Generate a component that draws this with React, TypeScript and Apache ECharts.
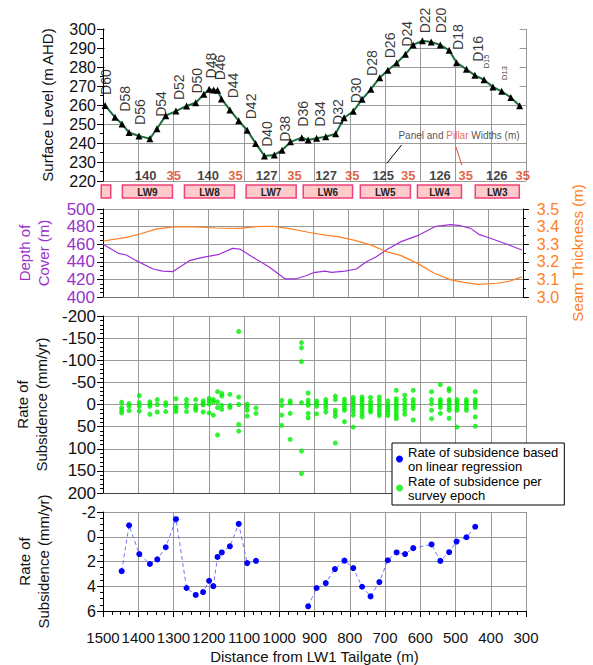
import React, { useEffect, useRef } from 'react';
import * as echarts from 'echarts';

// ---------- DATA ----------
const surfaceX = [1494,1466,1446,1426,1398,1367,1347,1322,1293,1263,1237,1214,1199,1186,1175,1164,1140,1115,1091,1067,1042,1014,992,968,936,918,894,868,840,816,790,765,740,715,692,667,642,620,594,569,543,518,497,469,445,419,394,369,343,318];
const surfaceLevel = [259.8,253.5,250,245.5,243.7,242.3,247.5,254.4,256.8,259.5,261.2,265.6,268.3,267.9,267.7,263.2,257.4,251.7,246.7,239.8,233.2,233.7,236.2,240.6,242.8,241.6,242.5,243.3,244.9,253.3,256.7,263,268.3,274.4,278.3,282.1,286.7,291.6,293.8,293.2,291.6,288.8,282.3,278.8,275.6,273.3,269.5,267.2,264,259.6];

const pegNames = ['D60','D58','D56','D54','D52','D50','D48','D46','D44','D42','D40','D38','D36','D34','D32','D30','D28','D26','D24','D22','D20','D18','D16','D15','D13'];
const pegLabelX = [1491,1438,1395,1335,1284,1234,1194,1168,1130,1081,1036,984,932,883,832,782,736,686,637,587,540,492,435,413,360];
const pegLabelY = [265.3,256.5,249.5,253.8,262.6,266,274,273,263.5,252.5,238,240.7,248.6,248.5,249.5,260.9,275.3,284.6,290.7,297.7,297.7,289,282.8,279.3,273.2];
const smallPegs = ['D15','D13'];

const widthLabels = ['140','35','140','35','127','35','127','35','125','35','126','35','126','35'];
const widthX = [1379,1299,1202,1124,1036,957,867,793,705,634,544,471,383,309];
const widthLevel = 222.8;

const lwNames = ['','LW9','LW8','LW7','LW6','LW5','LW4','LW3'];
const lwStart = [1505,1445,1269,1094,932,770,608,444];
const lwEnd = [1478,1303,1127,952,792,628,483,319];

const depthX = [1500,1456,1433,1405,1357,1329,1301,1253,1215,1168,1130,1109,1074,1026,979,951,922,899,865,847,809,776,747,719,686,648,601,549,506,478,449,426,393,345,303];
const depthCover = [459.9,449.6,447.7,441.3,431.8,429.5,428.8,441.3,445,448.5,455.3,454.5,445.8,434.4,420.5,420.5,423.9,427.6,429.5,428,429.5,431.8,440,445.8,454.5,462.9,469.7,480.3,482.2,481,478,471.2,466.7,459.9,453.4];

const seamX = [1499,1461,1433,1395,1348,1301,1234,1177,1111,1064,1017,970,913,865,828,780,733,695,648,601,553,506,468,430,374,336,303];
const seamThickness = [3.318,3.33,3.339,3.358,3.386,3.398,3.398,3.392,3.39,3.4,3.402,3.39,3.368,3.352,3.343,3.322,3.295,3.261,3.235,3.191,3.135,3.097,3.083,3.072,3.078,3.091,3.114];

const epochX = [1447,1426,1397,1367,1346,1322,1293,1263,1237,1216,1199,1187,1175,1163,1140,1115,1091,1066,993,969,937,918,894,868,841,815,790,765,741,716,692,668,644,620,568,543,518,496,469,444];
const epochRates = [
  [-5,7,13,19],[-2,4,14],[-20,-4,4,15],[-6,-1,4,22],[-11,0,17],[-4,2,16],[-13,4,9,16],[-11,-2,5,16],
  [-11,2,8,13],[-8,-2,1,17],[-14,-8,-1,19],[-11,-6,24],[-29,-6,7,69],[-25,-19,2,11],[-23,2,7],
  [-165,-17,0,45,60],[-1,5,13,26],[8,20],[-9,2,24,47],[-8,-3,20,79],[-140,-128,-97,-4,105,156],
  [-26,-10,-3,2,20,30],[-8,-2,4,21],[-11,-5,1,8,17],[-19,-11,13,20,27,87],[-12,-5,1,8,13,39],
  [-16,-10,-4,1,8,15,24,51],[-17,-11,-5,1,7,14,21,28],[-16,-7,0,6,12,17],[-17,-9,-1,5,12,19,25],
  [-8,0,6,12,18,25],[-32,-13,-7,0,6,12,19,26,32],[-21,-11,-2,5,13,22],[-32,-11,-4,3,9,35],
  [-29,-11,-2,13,32],[-45,-11,-6,0,7,20],[-36,-31,-11,-6,0,7,13,31],[-11,-6,0,7,13,51],
  [-11,-6,0,7,13],[-29,-11,-6,0,7,28,49]
];

const regressionX = [1447,1426,1397,1367,1346,1322,1293,1263,1237,1216,1199,1187,1175,1163,1140,1115,1091,1066,992,918,894,868,842,815,790,765,741,716,692,667,643,620,568,543,518,497,469,444];
const regressionRate = [2.78,-0.92,1.4,2.2,1.83,0.85,-1.42,4.14,4.7,4.47,3.56,3.99,1.63,1.27,0.77,-1.04,2.13,1.95,null,5.62,4.14,3.74,2.61,1.93,2.53,4.04,4.82,3.66,1.9,1.27,1.4,0.92,0.62,1.95,1.25,0.39,0.04,-0.81];

const xTicksMin = 300;
const xTicksMax = 1500;

// ---------- STYLE ----------
const FONT = 'Liberation Sans, Arial, Helvetica, sans-serif';
const PURPLE = '#9933cc';
const ORANGE = '#ff7f22';
const GRIDC = '#999999';
const L = 103, W = 423;

const SERIES_BLUE = 'Rate of subsidence based\non linear regression';
const SERIES_GREEN = 'Rate of subsidence per\nsurvey epoch';

function xAxisBase(gridIndex: number, extra: any = {}) {
  const base: any = {
    type: 'value', gridIndex, min: xTicksMin, max: xTicksMax, interval: 100, inverse: true,
    axisLine: { show: false, onZero: false }, axisTick: { show: false }, axisLabel: { show: false },
    splitLine: { show: true, lineStyle: { color: GRIDC, width: 1 } },
    ...extra,
  };
  base.axisLine = { ...(base.axisLine || {}), onZero: false };
  return base;
}

function yAxisBase(extra: any) {
  return {
    type: 'value',
    axisLine: { show: true, onZero: false, lineStyle: { color: '#000', width: 1 } },
    axisTick: { show: true, inside: false, length: 6, lineStyle: { color: '#000' } },
    minorTick: { show: true, length: 3, lineStyle: { color: '#000' } },
    splitLine: { show: true, lineStyle: { color: GRIDC, width: 1 } },
    nameLocation: 'middle', nameRotate: 90,
    ...extra,
  };
}

export default function App() {
  const ref = useRef<HTMLDivElement>(null);
  useEffect(() => {
    if (!ref.current) return;
    const chart = echarts.init(ref.current, undefined, { renderer: 'svg' });

    const surfaceData = surfaceX.map((x, i) => [x, surfaceLevel[i]]);
    const pegData = pegNames.map((n, i) => ({
      value: [pegLabelX[i], pegLabelY[i]], name: n,
      label: { fontSize: smallPegs.includes(n) ? 7.5 : 14 },
    }));
    const widthData = widthLabels.map((t, i) => ({
      value: [widthX[i], widthLevel], name: t,
      label: { color: i % 2 === 1 ? '#dd3b12' : '#111' },
    }));
    const lwData = lwNames.map((n, i) => [lwStart[i], lwEnd[i]]);
    const depthData = depthX.map((x, i) => [x, depthCover[i]]);
    const seamData = seamX.map((x, i) => [x, seamThickness[i]]);
    const epochData: number[][] = [];
    epochX.forEach((x, i) => epochRates[i].forEach((r) => epochData.push([x, r])));
    const regData = regressionX.map((x, i) => [x, regressionRate[i]]);

    const option: any = {
      animation: false,
      textStyle: { fontFamily: FONT },
      grid: [
        { left: L, width: W, top: 29, height: 152 },
        { left: L, width: W, top: 185, height: 13 },
        { left: L, width: W, top: 209, height: 88 },
        { left: L, width: W, top: 316, height: 177 },
        { left: L, width: W, top: 512, height: 106 },
      ],
      xAxis: [
        xAxisBase(0),
        xAxisBase(1, { show: false }),
        xAxisBase(2, { axisLine: { show: true, lineStyle: { color: '#777' } } }),
        xAxisBase(3, { axisLine: { show: true, lineStyle: { color: '#444' } } }),
        xAxisBase(4, {
          axisLine: { show: true, lineStyle: { color: '#000' } },
          axisTick: { show: true, length: 6, lineStyle: { color: '#000' } },
          minorTick: { show: true, splitNumber: 4, length: 4, lineStyle: { color: '#000' } },
          axisLabel: { show: true, fontSize: 15, color: '#111', margin: 19, fontFamily: FONT, formatter: (v: number) => String(v) },
          name: 'Distance from LW1 Tailgate (m)', nameLocation: 'middle', nameGap: 38,
          nameTextStyle: { fontSize: 15, color: '#111', fontFamily: FONT },
        }),
      ],
      yAxis: [
        yAxisBase({
          gridIndex: 0, min: 220, max: 300, interval: 10,
          minorTick: { show: true, splitNumber: 2, length: 3, lineStyle: { color: '#000' } },
          axisLabel: { fontSize: 16, color: '#111', margin: 7, fontFamily: FONT },
          name: 'Surface Level (m AHD)', nameGap: 48,
          nameTextStyle: { fontSize: 15, color: '#111', fontFamily: FONT },
        }),
        { type: 'value', gridIndex: 1, min: 0, max: 1, show: false },
        yAxisBase({
          gridIndex: 2, min: 400, max: 500, interval: 20,
          minorTick: { show: true, splitNumber: 4, length: 3, lineStyle: { color: '#000' } },
          axisLabel: { fontSize: 17, color: PURPLE, margin: 8, fontFamily: FONT },
          name: 'Depth of\nCover (m)', nameGap: 50,
          nameTextStyle: { fontSize: 15, color: PURPLE, lineHeight: 19, fontFamily: FONT },
        }),
        yAxisBase({
          gridIndex: 2, position: 'right', min: 3.0, max: 3.5, interval: 0.1,
          splitLine: { show: false },
          minorTick: { show: true, splitNumber: 2, length: 3, lineStyle: { color: '#000' } },
          axisLabel: { fontSize: 16, color: ORANGE, margin: 14, fontFamily: FONT, formatter: (v: number) => v.toFixed(1) },
          name: 'Seam Thickness (m)', nameGap: 44,
          nameTextStyle: { fontSize: 15, color: ORANGE, fontFamily: FONT },
        }),
        yAxisBase({
          gridIndex: 3, min: -200, max: 200, interval: 50, inverse: true,
          minorTick: { show: true, splitNumber: 5, length: 3, lineStyle: { color: '#000' } },
          axisLabel: { fontSize: 17, color: '#111', margin: 7, fontFamily: FONT },
          name: 'Rate of\nSubsidence (mm/yr)', nameGap: 50,
          nameTextStyle: { fontSize: 15, color: '#111', lineHeight: 19, fontFamily: FONT },
        }),
        yAxisBase({
          gridIndex: 4, min: -2, max: 6, interval: 2, inverse: true,
          minorTick: { show: true, splitNumber: 4, length: 3, lineStyle: { color: '#000' } },
          axisLabel: { fontSize: 16, color: '#111', margin: 7, fontFamily: FONT },
          name: 'Rate of\nSubsidence (mm/yr)', nameGap: 50,
          nameTextStyle: { fontSize: 15, color: '#111', lineHeight: 19, fontFamily: FONT },
        }),
      ],
      legend: {
        data: [SERIES_BLUE, SERIES_GREEN],
        orient: 'vertical', left: 392, top: 443,
        icon: 'circle', itemWidth: 7, itemHeight: 7, itemGap: 1,
        padding: [2, 6, 3, 4],
        borderColor: '#000', borderWidth: 1, backgroundColor: '#fff',
        textStyle: { fontSize: 13, lineHeight: 14, color: '#000', fontFamily: FONT },
        selectedMode: false,
      },
      series: [
        {
          type: 'line', name: 'Surface Level', xAxisIndex: 0, yAxisIndex: 0,
          data: surfaceData, z: 2,
          lineStyle: { color: '#1b6e38', width: 2 },
          symbol: 'triangle', symbolSize: 7, itemStyle: { color: '#000' },
          areaStyle: { color: '#ffffff', opacity: 1, origin: 'end' },
          silent: true,
        },
        {
          type: 'scatter', name: 'Peg labels', xAxisIndex: 0, yAxisIndex: 0, z: 5,
          data: pegData, symbolSize: 1, itemStyle: { color: 'rgba(0,0,0,0)' }, silent: true,
          label: {
            show: true, position: 'inside', rotate: 90, align: 'left', verticalAlign: 'middle',
            formatter: '{b}', color: '#000', fontSize: 14, fontFamily: FONT,
          },
        },
        {
          type: 'scatter', name: 'Widths', xAxisIndex: 0, yAxisIndex: 0, z: 5,
          data: widthData, symbolSize: 1, itemStyle: { color: 'rgba(0,0,0,0)' }, silent: true,
          label: { show: true, position: 'inside', formatter: '{b}', fontSize: 13, fontWeight: 'bold', fontFamily: FONT },
        },
        {
          type: 'scatter', name: 'Annotation', xAxisIndex: 0, yAxisIndex: 0, z: 5,
          data: [{ value: [490, 244.2], name: 'Panel and Pillar Widths (m)' }],
          symbolSize: 1, itemStyle: { color: 'rgba(0,0,0,0)' }, silent: true,
          label: {
            show: true, position: 'inside',
            formatter: '{a|Panel and }{b|Pillar}{a| Widths (m)}',
            rich: {
              a: { fontSize: 10, color: '#222', fontFamily: FONT },
              b: { fontSize: 10, color: '#e04a1a', fontFamily: FONT },
            },
          },
          markLine: {
            silent: true, symbol: ['none', 'arrow'], symbolSize: [0, 8], label: { show: false },
            animation: false,
            data: [
              [{ coord: [653, 238.9], lineStyle: { color: '#000', width: 1, type: 'solid' } }, { coord: [695, 229.3] }],
              [{ coord: [499, 238], lineStyle: { color: '#e04a1a', width: 1, type: 'solid' } }, { coord: [482, 228.4] }],
            ],
          },
        },
        {
          type: 'custom', name: 'Longwalls', xAxisIndex: 1, yAxisIndex: 1, clip: false, silent: true,
          data: lwData, encode: { x: [0, 1] },
          renderItem: (params: any, api: any) => {
            const p0 = api.coord([api.value(0), 1]);
            const p1 = api.coord([api.value(1), 0]);
            const x = Math.min(p0[0], p1[0]);
            const w = Math.abs(p1[0] - p0[0]);
            const y = Math.min(p0[1], p1[1]);
            const h = Math.abs(p1[1] - p0[1]);
            return {
              type: 'group',
              children: [
                { type: 'rect', shape: { x, y, width: w, height: h }, style: { fill: '#ffcaca', stroke: '#f0407a', lineWidth: 1.5 } },
                {
                  type: 'text',
                  style: {
                    text: lwNames[params.dataIndex], x: x + w / 2, y: y + h / 2 + 0.5,
                    align: 'center', verticalAlign: 'middle', fill: '#222',
                    font: `bold 10px ${FONT}`,
                  },
                },
              ],
            };
          },
        },
        {
          type: 'line', name: 'Depth of Cover', xAxisIndex: 2, yAxisIndex: 2,
          data: depthData, symbol: 'none', lineStyle: { color: '#a030d8', width: 1.2 }, silent: true,
        },
        {
          type: 'line', name: 'Seam Thickness', xAxisIndex: 2, yAxisIndex: 3,
          data: seamData, symbol: 'none', lineStyle: { color: ORANGE, width: 1.2 }, silent: true,
        },
        {
          type: 'scatter', name: SERIES_GREEN, xAxisIndex: 3, yAxisIndex: 4,
          data: epochData, symbolSize: 5, itemStyle: { color: '#00ee00' }, silent: true,
        },
        {
          type: 'line', name: SERIES_BLUE, xAxisIndex: 4, yAxisIndex: 5,
          data: regData, connectNulls: false,
          symbol: 'circle', symbolSize: 6, itemStyle: { color: '#0000ff' },
          lineStyle: { color: '#6f74ff', width: 1, type: [4, 3] }, silent: true,
        },
      ],
    };

    chart.setOption(option);
    return () => chart.dispose();
  }, []);

  return <div ref={ref} style={{ position: 'absolute', left: 0, top: 0, width: 593, height: 665 }} />;
}
